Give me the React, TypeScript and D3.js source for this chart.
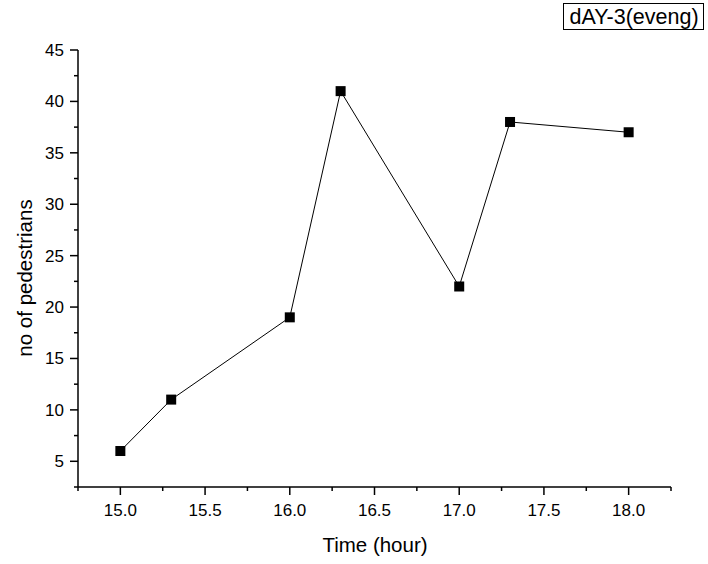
import React from "react";
import * as d3 from "d3";

const times = [15.0, 15.3, 16.0, 16.3, 17.0, 17.3, 18.0];
const pedestrians = [6, 11, 19, 41, 22, 38, 37];
const xTicks = [15.0, 15.5, 16.0, 16.5, 17.0, 17.5, 18.0];
const yTicks = [5, 10, 15, 20, 25, 30, 35, 40, 45];
const legendLabel = "dAY-3(eveng)";

const W = 708;
const H = 564;
const FONT = "'Liberation Sans', Arial, sans-serif";

export default function App() {
  const x = d3.scaleLinear().domain([14.75, 18.25]).range([78, 671]);
  const y = d3.scaleLinear().domain([2.5, 45]).range([487, 50]);
  const xMinor = d3.range(14.75, 18.26, 0.25).filter((v) => !xTicks.some((t) => Math.abs(t - v) < 1e-6));
  const yMinor = d3.range(2.5, 45.01, 2.5).filter((v) => !yTicks.some((t) => Math.abs(t - v) < 1e-6));
  const pts = times.map((t, i) => [t, pedestrians[i]] as [number, number]);
  const line = d3.line<[number, number]>().x((d) => x(d[0])).y((d) => y(d[1]));
  const ms = 10;

  return (
    <svg width={W} height={H} style={{ position: "absolute", left: 0, top: 0, background: "#fff" }} fontFamily={FONT}>
      <rect x={0} y={0} width={W} height={H} fill="#fff" />
      {/* axes */}
      <line x1={x(14.75)} x2={x(18.25)} y1={y(2.5)} y2={y(2.5)} stroke="#000" strokeWidth={1.5} />
      <line x1={x(14.75)} x2={x(14.75)} y1={y(2.5)} y2={y(45)} stroke="#000" strokeWidth={1.5} />
      {xTicks.map((t) => (
        <g key={"xt" + t}>
          <line x1={x(t)} x2={x(t)} y1={y(2.5)} y2={y(2.5) + 8} stroke="#000" strokeWidth={1.5} />
          <text x={x(t)} y={516} fontSize={17} textAnchor="middle" fill="#000">
            {t.toFixed(1)}
          </text>
        </g>
      ))}
      {xMinor.map((t) => (
        <line key={"xm" + t} x1={x(t)} x2={x(t)} y1={y(2.5)} y2={y(2.5) + 4} stroke="#000" strokeWidth={1.5} />
      ))}
      {yTicks.map((t) => (
        <g key={"yt" + t}>
          <line x1={x(14.75) - 8} x2={x(14.75)} y1={y(t)} y2={y(t)} stroke="#000" strokeWidth={1.5} />
          <text x={64} y={y(t) + 6} fontSize={17} textAnchor="end" fill="#000">
            {t}
          </text>
        </g>
      ))}
      {yMinor.map((t) => (
        <line key={"ym" + t} x1={x(14.75) - 4} x2={x(14.75)} y1={y(t)} y2={y(t)} stroke="#000" strokeWidth={1.5} />
      ))}
      {/* axis titles */}
      <text x={375} y={552} fontSize={20.5} textAnchor="middle" fill="#000">
        Time (hour)
      </text>
      <text transform={`translate(32, 278) rotate(-90)`} fontSize={20.5} textAnchor="middle" fill="#000">
        no of pedestrians
      </text>
      {/* data line */}
      <path d={line(pts) || ""} fill="none" stroke="#000" strokeWidth={1} />
      {pts.map((p, i) => (
        <rect key={"m" + i} x={x(p[0]) - ms / 2} y={y(p[1]) - ms / 2} width={ms} height={ms} fill="#000" />
      ))}
      {/* legend */}
      <rect x={563.5} y={3.5} width={140} height={26} fill="#fff" stroke="#000" strokeWidth={1} />
      <text x={634} y={24} fontSize={21.5} textAnchor="middle" fill="#000">
        {legendLabel}
      </text>
    </svg>
  );
}
